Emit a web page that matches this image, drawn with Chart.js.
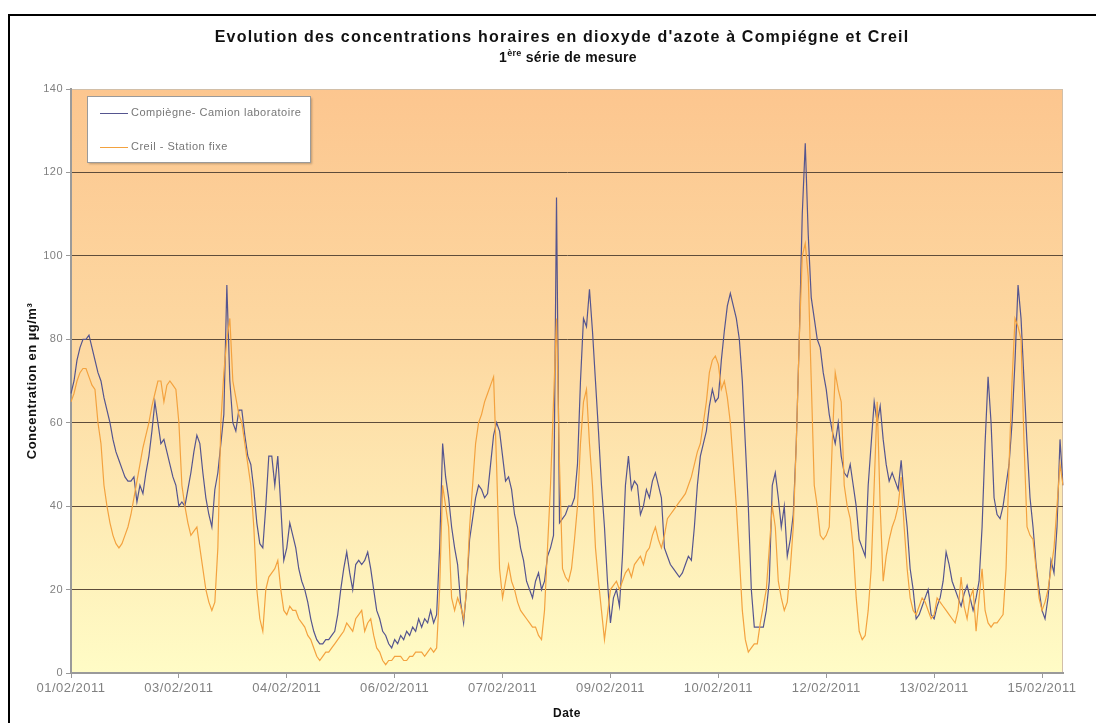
<!DOCTYPE html>
<html>
<head>
<meta charset="utf-8">
<script src="https://cdn.jsdelivr.net/npm/chart.js@4"></script>
<style>
  html, body { margin: 0; padding: 0; background: #fff; overflow: hidden; }
  #cadre { position: absolute; left: 8px; top: 14px; width: 1200px; height: 800px; border: 2px solid #000; }
  #graph { position: absolute; left: 0; top: 0; }
</style>
</head>
<body>
<div id="cadre"></div>
<canvas id="graph" width="1096" height="723"></canvas>
<script>
// Concentrations horaires NO2 (µg/m3), une valeur par heure depuis le 01/02/2011 14h
const compiegne = [
  67, 70, 75, 78, 80, 80, 81, 78, 75, 72,
  70, 66, 63, 60, 56, 53, 51, 49, 47, 46,
  46, 47, 41, 45, 43, 48, 52, 58, 65, 60,
  55, 56, 53, 50, 47, 45, 40, 41, 40, 44,
  48, 53, 57, 55, 48, 42, 38, 35, 44, 48,
  55, 62, 93, 70, 60, 58, 63, 63, 57, 52,
  50, 44, 36, 31, 30, 40, 52, 52, 45, 52,
  40, 27, 30, 36, 33, 30, 25, 22, 20, 17,
  13, 10, 8, 7, 7, 8, 8, 9, 10, 14,
  20, 25, 29, 24, 20, 26, 27, 26, 27, 29,
  25, 20, 15, 13, 10, 9, 7, 6, 8, 7,
  9, 8, 10, 9, 11, 10, 13, 11, 13, 12,
  15, 12, 14, 30, 55, 47, 42, 35, 30, 26,
  17, 12, 20, 32, 37, 42, 45, 44, 42, 43,
  50, 57, 60, 58, 52, 46, 47, 44, 38, 35,
  30, 27, 22, 20, 18, 22, 24, 20, 22, 28,
  30, 33, 114, 36, 37, 38, 40, 40, 42, 50,
  70, 85, 83, 92, 82, 70, 58, 45, 35, 22,
  12, 18, 20, 16, 28, 45, 52, 44, 46, 45,
  38, 40, 44, 42, 46, 48, 45, 42, 30, 28,
  26, 25, 24, 23, 24, 26, 28, 27, 35, 45,
  52, 55, 58, 64, 68, 65, 66, 75, 82, 88,
  91, 88, 85, 80, 70, 55, 40, 20, 11, 11,
  11, 11, 15, 22, 45, 48, 42, 35, 40, 28,
  32, 38, 55, 80, 110, 127, 105, 90, 85, 80,
  78, 72, 68, 62, 58, 55, 60, 52, 48, 47,
  50, 45, 40, 32, 30, 28, 45, 55, 65, 60,
  64, 56, 50, 46, 48, 46, 44, 51, 42, 35,
  25, 20, 13, 14, 16, 18, 20, 14, 13, 16,
  18, 22, 29, 26, 22, 20, 18, 16, 19, 21,
  18, 15, 18, 22, 35, 55, 71, 60, 42, 38,
  37, 40, 45, 50, 60, 75, 93, 85, 70, 55,
  42, 35, 26, 20, 15, 13, 18, 27, 24, 35,
  56, 45
];

const creil = [
  65, 67, 70, 72, 73, 73, 71, 69, 68, 60,
  55, 45, 40, 36, 33, 31, 30, 31, 33, 35,
  38, 42, 46, 50, 54, 57, 60, 64, 67, 70,
  70, 65, 69, 70, 69, 68, 60, 45, 40, 36,
  33, 34, 35, 30, 25, 20, 17, 15, 17, 30,
  60, 72, 80, 85, 70, 66, 62, 60, 55, 50,
  45, 35, 20, 13, 10, 20, 23, 24, 25, 27,
  20, 15, 14, 16, 15, 15, 13, 12, 11, 9,
  8, 6, 4, 3, 4, 5, 5, 6, 7, 8,
  9, 10, 12, 11, 10, 13, 14, 15, 10, 12,
  13, 9, 6, 5, 3, 2, 3, 3, 4, 4,
  4, 3, 3, 4, 4, 5, 5, 5, 4, 5,
  6, 5, 6, 20, 45, 40, 35, 18, 15, 18,
  16, 13, 20, 35, 45, 55, 60, 62, 65, 67,
  69, 71, 50, 25, 18, 22, 26, 22, 20, 17,
  15, 14, 13, 12, 11, 11, 9, 8, 15, 30,
  45, 65, 85, 50, 25, 23, 22, 25, 32, 40,
  55, 65, 68, 55, 45, 30, 22, 15, 8, 14,
  20, 21, 22, 20, 22, 24, 25, 23, 26, 27,
  28, 26, 29, 30, 33, 35, 32, 30, 33, 37,
  38, 39, 40, 41, 42, 43, 45, 47, 50, 53,
  55, 60, 65, 72, 75, 76, 74, 68, 70, 66,
  60, 50, 40, 28, 15, 8, 5, 6, 7, 7,
  12, 16, 20, 30, 40, 35, 22, 18, 15, 17,
  25, 35, 55, 80, 100, 103, 95, 70, 45, 40,
  33, 32, 33, 35, 55, 72, 68, 65, 45, 40,
  37, 30, 18, 10, 8, 9, 15, 25, 45, 65,
  40, 22, 28, 32, 35, 37, 40, 47, 35, 25,
  18, 15, 14, 16, 18, 17, 15, 13, 14, 18,
  17, 16, 15, 14, 13, 12, 15, 23, 16, 13,
  18, 20, 10, 18, 25, 15, 12, 11, 12, 12,
  13, 14, 25, 50, 70, 85, 83, 80, 55, 35,
  33, 32, 25, 18, 15, 17, 20, 25, 30, 40,
  50, 45
];

// labels horaires (categories)
const debut = new Date(2011, 1, 1, 14, 0);
const heures = [];
for (let i = 0; i < compiegne.length; i++) {
  const d = new Date(debut.getTime() + i * 3600000);
  const jj = String(d.getDate()).padStart(2, "0");
  const mm = String(d.getMonth() + 1).padStart(2, "0");
  heures.push(jj + "/" + mm + "/" + d.getFullYear());
}
const pasEtiquettes = 36;

const titre1 = "Evolution des concentrations horaires en dioxyde d'azote à Compiégne et Creil";
const nomsSeries = ["Compiègne- Camion laboratoire", "Creil - Station fixe"];
const couleurs = ["#55558f", "#f3a23f"];

const police = "Arial, 'Liberation Sans'";

// fond degrade + cadre du graphique
const fondPlugin = {
  id: "fond",
  beforeDraw(chart) {
    const { ctx, chartArea: a } = chart;
    const g = ctx.createLinearGradient(0, a.top, 0, a.bottom);
    g.addColorStop(0, "#fcc68f");
    g.addColorStop(0.45, "#fdd9a2");
    g.addColorStop(1, "#fffcc6");
    ctx.save();
    ctx.fillStyle = g;
    ctx.fillRect(a.left, a.top, a.right - a.left, a.bottom - a.top);
    ctx.strokeStyle = "#d2bfa8";
    ctx.lineWidth = 1;
    ctx.strokeRect(a.left + 0.5, a.top + 0.5, a.right - a.left - 1, a.bottom - a.top - 1);
    ctx.restore();
    // texte un peu espace comme dans l'original
    ctx.letterSpacing = "0.5px";
  },
};

// titre sur deux lignes avec exposant
const titrePlugin = {
  id: "titre",
  afterDraw(chart) {
    const ctx = chart.ctx;
    ctx.save();
    ctx.letterSpacing = "1.2px";
    ctx.fillStyle = "#111";
    ctx.textBaseline = "middle";
    ctx.textAlign = "center";
    ctx.font = "bold 16px " + police;
    ctx.fillText(titre1, 562, 38);

    ctx.letterSpacing = "0.3px";
    ctx.textAlign = "left";
    const p1 = "1", p2 = "ère", p3 = " série de mesure";
    ctx.font = "bold 14px " + police;
    const w1 = ctx.measureText(p1).width;
    const w3 = ctx.measureText(p3).width;
    ctx.font = "bold 9px " + police;
    const w2 = ctx.measureText(p2).width;
    let x = 568 - (w1 + w2 + w3) / 2;
    ctx.font = "bold 14px " + police;
    ctx.fillText(p1, x, 58);
    x += w1;
    ctx.font = "bold 9px " + police;
    ctx.fillText(p2, x, 54);
    x += w2;
    ctx.font = "bold 14px " + police;
    ctx.fillText(p3, x, 58);
    ctx.restore();
  },
};

// legende en haut a gauche dans la zone du graphique
const legendePlugin = {
  id: "legende",
  afterDraw(chart) {
    const ctx = chart.ctx;
    ctx.save();
    ctx.shadowColor = "rgba(0,0,0,0.25)";
    ctx.shadowOffsetX = 2;
    ctx.shadowOffsetY = 2;
    ctx.shadowBlur = 2;
    ctx.fillStyle = "#fff";
    ctx.fillRect(87, 96, 223, 66);
    ctx.shadowColor = "transparent";
    ctx.strokeStyle = "#9a9a9a";
    ctx.lineWidth = 1;
    ctx.strokeRect(87.5, 96.5, 223, 66);
    ctx.letterSpacing = "0.5px";
    ctx.font = "11px " + police;
    ctx.textBaseline = "middle";
    ctx.fillStyle = "#777";
    const ys = [113, 147];
    chart.data.datasets.forEach((ds, i) => {
      ctx.strokeStyle = ds.borderColor;
      ctx.beginPath();
      ctx.moveTo(100, ys[i] + 0.5);
      ctx.lineTo(128, ys[i] + 0.5);
      ctx.stroke();
      ctx.fillText(ds.label, 131, ys[i]);
    });
    ctx.restore();
  },
};

new Chart(document.getElementById("graph"), {
  type: "line",
  data: {
    labels: heures,
    datasets: [
      {
        label: nomsSeries[0],
        data: compiegne,
        borderColor: couleurs[0],
        borderWidth: 1.2,
        pointRadius: 0,
        order: 1,
      },
      {
        label: nomsSeries[1],
        data: creil,
        borderColor: couleurs[1],
        borderWidth: 1.2,
        pointRadius: 0,
        order: 0,
      },
    ],
  },
  options: {
    responsive: false,
    animation: false,
    layout: { padding: { top: 89, right: 33, left: 20, bottom: 0 } },
    plugins: {
      legend: { display: false },
      title: { display: false },
      tooltip: { enabled: false },
    },
    scales: {
      x: {
        offset: false,
        afterFit(scale) { scale.height = 50; },
        grid: { drawOnChartArea: false, tickLength: 5, tickColor: "#999" },
        border: { color: "#9a9a9a", width: 2 },
        ticks: {
          autoSkip: false,
          maxRotation: 0,
          padding: 3,
          color: "#808080",
          font: { family: police, size: 13 },
          callback(val, i) {
            return i % pasEtiquettes === 0 ? heures[i] : null;
          },
        },
        title: {
          display: true,
          text: "Date",
          color: "#111",
          font: { family: police, size: 12, weight: "bold" },
          padding: { top: 0, bottom: 2 },
        },
      },
      y: {
        min: 0,
        max: 140,
        afterFit(scale) { scale.width = 51; },
        grid: {
          tickLength: 5,
          tickColor: "#999",
          lineWidth: 1,
          color(c) {
            return c.tick.value === 0 || c.tick.value === 140 ? "rgba(0,0,0,0)" : "#5e4c3a";
          },
        },
        border: { color: "#9a9a9a", width: 2 },
        ticks: {
          stepSize: 20,
          padding: 3,
          color: "#808080",
          font: { family: police, size: 11 },
        },
        title: {
          display: true,
          text: "Concentration en µg/m³",
          color: "#111",
          font: { family: police, size: 13, weight: "bold" },
          padding: { top: 5, bottom: 0 },
        },
      },
    },
  },
  plugins: [fondPlugin, titrePlugin, legendePlugin],
});
</script>
</body>
</html>
